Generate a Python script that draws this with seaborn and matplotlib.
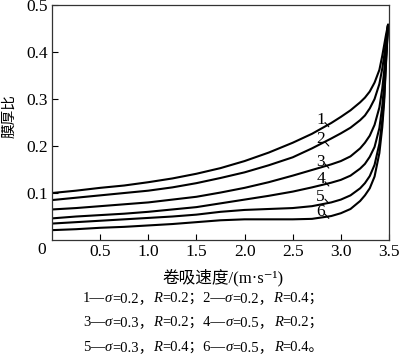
import matplotlib
matplotlib.use("Agg")
import matplotlib.pyplot as plt
import seaborn as sns
import pandas as pd

# ---- data ----
speed = [0, 0.25, 0.5, 0.75, 1.0, 1.25, 1.5, 1.75, 2.0, 2.25, 2.5, 2.7, 2.9, 3.0,
         3.1, 3.2, 3.25, 3.3, 3.35, 3.4, 3.43, 3.45, 3.47, 3.49]
curve1 = [0.100, 0.105, 0.111, 0.116, 0.123, 0.131, 0.141, 0.153, 0.168, 0.186, 0.207, 0.226, 0.249, 0.262,
          0.276, 0.293, 0.303, 0.316, 0.335, 0.362, 0.392, 0.415, 0.438, 0.458]
curve2 = [0.085, 0.090, 0.095, 0.100, 0.105, 0.112, 0.121, 0.132, 0.144, 0.159, 0.176, 0.195, 0.216, 0.227,
          0.239, 0.255, 0.265, 0.280, 0.300, 0.332, 0.365, 0.392, 0.425, 0.458]
curve3 = [0.065, 0.068, 0.072, 0.076, 0.080, 0.086, 0.092, 0.101, 0.111, 0.123, 0.137, 0.149, 0.161, 0.168,
          0.178, 0.195, 0.207, 0.222, 0.245, 0.282, 0.322, 0.360, 0.410, 0.458]
curve4 = [0.046, 0.050, 0.053, 0.056, 0.060, 0.065, 0.070, 0.078, 0.086, 0.094, 0.103, 0.112, 0.122, 0.128,
          0.137, 0.152, 0.162, 0.177, 0.198, 0.238, 0.285, 0.330, 0.395, 0.458]
curve5 = [0.035, 0.038, 0.041, 0.044, 0.047, 0.050, 0.054, 0.060, 0.064, 0.066, 0.068, 0.072, 0.080, 0.086,
          0.095, 0.110, 0.121, 0.136, 0.160, 0.205, 0.255, 0.305, 0.385, 0.458]
curve6 = [0.021, 0.023, 0.026, 0.028, 0.031, 0.034, 0.038, 0.042, 0.044, 0.044, 0.044, 0.045, 0.051, 0.057,
          0.066, 0.083, 0.095, 0.110, 0.135, 0.185, 0.240, 0.295, 0.380, 0.458]
curve_names = ["1", "2", "3", "4", "5", "6"]
label_x = 2.79
label_y = [0.255, 0.214, 0.167, 0.129, 0.092, 0.060]

x_ticks = [0.5, 1.0, 1.5, 2.0, 2.5, 3.0, 3.5]
y_ticks = [0.1, 0.2, 0.3, 0.4, 0.5]

captions = [
    [("1—", "n"), ("σ", "i"), ("=0.2，", "n"), ("R", "i"), ("=0.2；2—", "n"), ("σ", "i"), ("=0.2，", "n"), ("R", "i"), ("=0.4；", "n")],
    [("3—", "n"), ("σ", "i"), ("=0.3，", "n"), ("R", "i"), ("=0.2；4—", "n"), ("σ", "i"), ("=0.5，", "n"), ("R", "i"), ("=0.2；", "n")],
    [("5—", "n"), ("σ", "i"), ("=0.3，", "n"), ("R", "i"), ("=0.4；6—", "n"), ("σ", "i"), ("=0.5，", "n"), ("R", "i"), ("=0.4。", "n")],
]

rows = []
for name, vals in zip(curve_names, [curve1, curve2, curve3, curve4, curve5, curve6]):
    for xv, yv in zip(speed, vals):
        rows.append({"speed": xv, "ratio": yv, "curve": name})
df = pd.DataFrame(rows)

sns.set_theme(style="ticks")
FAM = ["Liberation Serif", "Noto Sans CJK SC", "DejaVu Serif"]
plt.rcParams["font.family"] = FAM

fig = plt.figure(figsize=(4.0, 3.62), dpi=100)
ax = fig.add_axes([0.13, 0.337, 0.8425, 0.649])

sns.lineplot(data=df, x="speed", y="ratio", hue="curve", palette=["black"] * 6,
             legend=False, ax=ax, linewidth=1.5, sort=False)

ax.set_xlim(0, 3.5)
ax.set_ylim(0, 0.5)
ax.set_xticks(x_ticks)
ax.set_xticklabels([f"{v:.1f}" for v in x_ticks])
ax.set_yticks(y_ticks)
ax.set_yticklabels([f"{v:.1f}" for v in y_ticks])
ax.tick_params(direction="in", length=4, width=0.8, color="black",
               labelsize=12.5, labelcolor="black", pad=3)
for sp in ax.spines.values():
    sp.set_visible(True)
    sp.set_color("#333333")
    sp.set_linewidth(0.9)
ax.set_xlabel("")
ax.set_ylabel("")

# corner zero
ax.text(-0.018, -0.01, "0", transform=ax.transAxes, ha="right", va="top",
        fontsize=12.5, color="black")

# curve number labels with leaders
for name, ly in zip(curve_names, label_y):
    ax.text(label_x, ly, name, ha="center", va="center", fontsize=12.5, color="black")
    ax.annotate("", xy=(label_x + 0.085, ly - 0.014), xytext=(label_x + 0.045, ly - 0.005),
                arrowprops=dict(arrowstyle="-", color="black", lw=0.8,
                                shrinkA=0, shrinkB=0))

# axis titles
fig.text(0.024, 0.68, "膜厚比", rotation=90, ha="center", va="center",
         fontsize=10.5, family=["Noto Sans CJK SC"], color="black")
fig.text(0.5575, 0.232, "卷吸速度/(m·s⁻¹)", ha="center", va="center",
         fontsize=12, color="black")

# caption lines built from fragments
cap_y = [0.166, 0.099, 0.030]
for yv, parts in zip(cap_y, captions):
    prev = None
    for s, st in parts:
        style = "italic" if st == "i" else "normal"
        if prev is None:
            prev = fig.text(0.207, yv, s, ha="left", va="baseline", fontsize=10.5,
                            style=style, color="black")
        else:
            prev = ax.annotate(s, xy=(1, yv), xycoords=(prev, "figure fraction"),
                               ha="left", va="baseline", fontsize=10.5, style=style,
                               color="black", annotation_clip=False)

fig.savefig("out.png", dpi=100)
